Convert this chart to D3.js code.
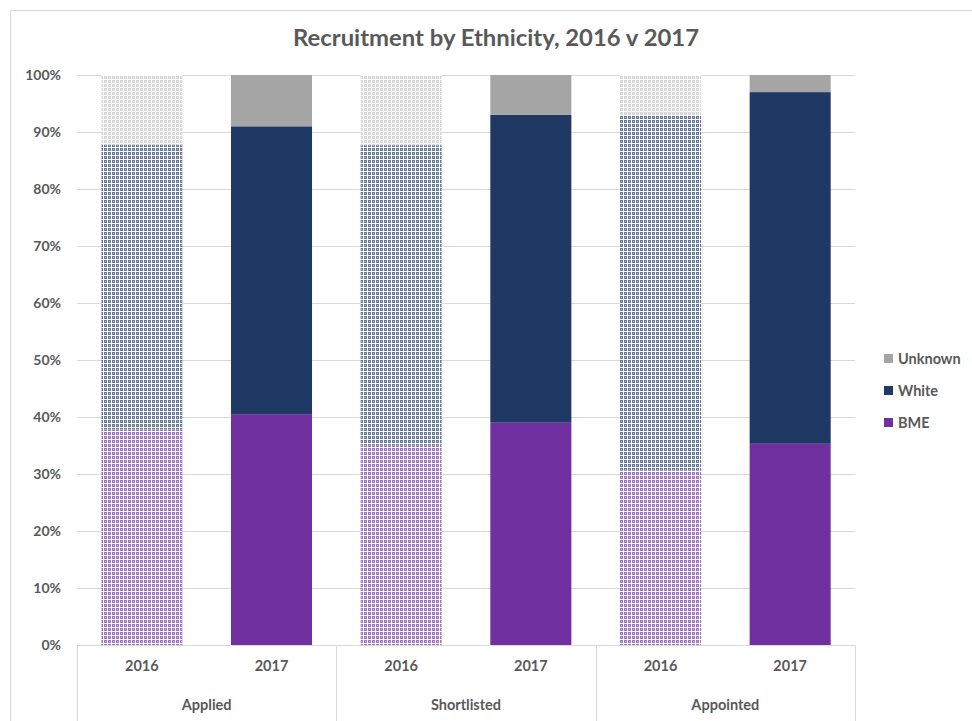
<!DOCTYPE html>
<html>
<head>
<meta charset="utf-8">
<script src="https://cdn.jsdelivr.net/npm/d3@7"></script>
<style>
  html, body { margin: 0; padding: 0; background: #fff; }
  svg text { font-family: Lato, "Open Sans", sans-serif; fill: #595959; }
</style>
</head>
<body>
<svg id="chart" width="972" height="721"></svg>
<script>
// Stages and years shown on the category axis
const stages = ["Applied", "Shortlisted", "Appointed"];
const years = ["2016", "2017"];

// Share of each ethnicity group (%), one entry per stage/year bar, in the order above
const bmeValues     = [37.8, 40.5, 35.1, 39.0, 30.6, 35.3];
const whiteValues   = [50.0, 50.5, 52.6, 54.0, 62.4, 61.7];
const unknownValues = [12.2,  9.0, 12.3,  7.0,  7.0,  3.0];

const seriesNames  = ["BME", "White", "Unknown"];
const seriesColors = ["#7030a0", "#1f3864", "#a5a5a5"];
const yTicks = [0, 10, 20, 30, 40, 50, 60, 70, 80, 90, 100];

const rows = [];
stages.forEach((s, i) => years.forEach((y, j) => {
  const k = i * 2 + j;
  rows.push({ key: s + "|" + y, stage: s, year: y,
    BME: bmeValues[k], White: whiteValues[k], Unknown: unknownValues[k] });
}));

const svg = d3.select("#chart");
const margin = { left: 77, right: 117, top: 75, bottom: 76 };
const W = 972, H = 721;
const plotL = margin.left, plotR = W - margin.right, plotT = margin.top, plotB = H - margin.bottom;

// Outer chart frame
svg.append("rect").attr("x", 10.5).attr("y", 10.5).attr("width", 980).attr("height", 740)
  .attr("fill", "none").attr("stroke", "#d9d9d9").attr("stroke-width", 1);

// Lattice fills for the 2016 bars: series colour cells separated by white lines
const defs = svg.append("defs");
seriesNames.forEach((n, i) => {
  const p = defs.append("pattern").attr("id", "pat-" + n)
    .attr("patternUnits", "userSpaceOnUse").attr("width", 4).attr("height", 4);
  p.append("rect").attr("width", 4).attr("height", 4).attr("fill", "#fff");
  p.append("rect").attr("x", 0).attr("y", 0).attr("width", 3).attr("height", 3)
    .attr("fill", seriesColors[i]).attr("opacity", n === "Unknown" ? 0.45 : 0.68);
  p.append("rect").attr("x", 1).attr("y", 1).attr("width", 1).attr("height", 1)
    .attr("fill", "#fff").attr("opacity", 0.55);
});

const x = d3.scaleBand().domain(rows.map(d => d.key)).range([plotL, plotR]).paddingInner(0.375).paddingOuter(0.1875);
const y = d3.scaleLinear().domain([0, 100]).range([plotB, plotT]);

// Horizontal gridlines
svg.append("g").selectAll("line").data(yTicks.filter(t => t > 0)).join("line")
  .attr("x1", plotL).attr("x2", plotR)
  .attr("y1", d => Math.round(y(d)) + 0.5).attr("y2", d => Math.round(y(d)) + 0.5)
  .attr("stroke", "#d9d9d9").attr("stroke-width", 1);

// Y axis labels
const yAxis = d3.axisLeft(y).tickValues(yTicks).tickFormat(d => d + "%").tickSize(0).tickPadding(16);
const gy = svg.append("g").attr("transform", `translate(${plotL},0)`).call(yAxis);
gy.select(".domain").remove();
gy.selectAll("text").style("font-size", "14px").style("font-weight", "bold")
  .style("font-family", "Lato, sans-serif").attr("fill", "#595959");

// Stacked bars
const stack = d3.stack().keys(seriesNames)(rows);
stack.forEach((layer, i) => {
  svg.append("g").selectAll("rect").data(layer).join("rect")
    .attr("x", d => x(d.data.key))
    .attr("width", x.bandwidth())
    .attr("y", d => y(d[1]))
    .attr("height", d => y(d[0]) - y(d[1]))
    .attr("fill", d => d.data.year === "2016" ? `url(#pat-${seriesNames[i]})` : seriesColors[i]);
});

// Category axis: baseline, group separators, year and stage labels
const axisG = svg.append("g");
axisG.append("line").attr("x1", plotL).attr("x2", plotR)
  .attr("y1", plotB + 0.5).attr("y2", plotB + 0.5).attr("stroke", "#d9d9d9");
const groupW = (plotR - plotL) / stages.length;
d3.range(stages.length + 1).forEach(i => {
  const gx = Math.round(plotL + i * groupW) + 0.5;
  axisG.append("line").attr("x1", gx).attr("x2", gx).attr("y1", plotB).attr("y2", H)
    .attr("stroke", "#d9d9d9");
});
const xAxis = d3.axisBottom(x).tickFormat(k => k.split("|")[1]).tickSize(0).tickPadding(16);
const gx = svg.append("g").attr("transform", `translate(0,${plotB})`).call(xAxis);
gx.select(".domain").remove();
gx.selectAll("text").style("font-size", "14.5px").style("font-weight", "bold")
  .style("font-family", "Lato, sans-serif").attr("fill", "#595959");
stages.forEach((s, i) => {
  svg.append("text").attr("x", plotL + (i + 0.5) * groupW).attr("y", 710)
    .attr("text-anchor", "middle").style("font-size", "14.5px").style("font-weight", "bold")
    .text(s);
});

// Title
svg.append("text").attr("x", 496).attr("y", 46).attr("text-anchor", "middle")
  .attr("textLength", 406).attr("lengthAdjust", "spacingAndGlyphs")
  .style("font-size", "23px").style("font-weight", "bold").attr("fill", "#595959")
  .text("Recruitment by Ethnicity, 2016 v 2017");

// Legend (Unknown on top)
const legendItems = seriesNames.map((n, i) => ({ n, c: seriesColors[i] })).reverse();
const lg = svg.append("g").selectAll("g").data(legendItems).join("g")
  .attr("transform", (d, i) => `translate(884, ${354 + i * 32})`);
lg.append("rect").attr("width", 9).attr("height", 9).attr("fill", d => d.c);
lg.append("text").attr("x", 14).attr("y", 10).style("font-size", "14.5px").style("font-weight", "bold")
  .text(d => d.n);
</script>
</body>
</html>
